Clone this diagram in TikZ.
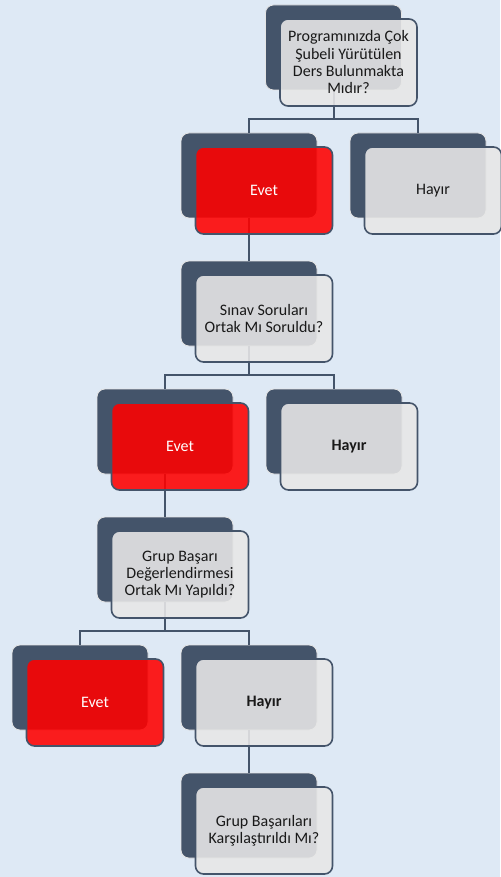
\documentclass[tikz,border=0pt]{standalone}
\usepackage{fontspec}
\setmainfont{Carlito}
\usetikzlibrary{calc}
\definecolor{slate}{HTML}{44546A}
\definecolor{bgblue}{HTML}{DEE9F5}
\definecolor{boxgray}{HTML}{E7E7E7}
\definecolor{rimgray}{HTML}{E4E4E4}
\tikzset{
  backbox/.style = {draw=rimgray, line width=0.6pt, fill=slate, rounded corners=6pt,
                    minimum width=102pt, minimum height=63.75pt, inner sep=0pt},
  frontbox/.style = {draw=slate, line width=1.2pt, rounded corners=6pt,
                     minimum width=102.75pt, minimum height=65.25pt, inner sep=0pt,
                     align=center, text opacity=1, xshift=11.25pt, yshift=-11.25pt,
                     font=\fontsize{12}{13}\selectfont},
  yesbox/.style = {frontbox, fill=red, fill opacity=0.88, text=white},
  nobox/.style  = {frontbox, fill=boxgray, fill opacity=0.89, text=black!90},
  conn/.style   = {draw=slate, line width=1.5pt}
}

\begin{document}
\begin{tikzpicture}[x=0.75pt, y=-0.75pt]
  \fill[bgblue] (0,0) rectangle (500,877);
  \useasboundingbox (0,0) rectangle (500,877);
  % back boxes
  \node[backbox] (q1b) at (333.5, 47.5)  {};
  \node[backbox] (e1b) at (249, 175.5)   {};
  \node[backbox] (h1b) at (418, 175.5)   {};
  \node[backbox] (q2b) at (249, 303.5)   {};
  \node[backbox] (e2b) at (165, 431.5)   {};
  \node[backbox] (h2b) at (334, 431.5)   {};
  \node[backbox] (q3b) at (165, 559.5)   {};
  \node[backbox] (e3b) at (80, 687.5)    {};
  \node[backbox] (h3b) at (249, 687.5)   {};
  \node[backbox] (q4b) at (249, 815.5)   {};
  % bottom middle of the front boxes, for the connectors
  \path (q1b) ++(15,58.5) coordinate (q1);
  \path (q2b) ++(15,58.5) coordinate (q2);
  \path (q3b) ++(15,58.5) coordinate (q3);
  % connectors
  \draw[conn] (q1b.south) |- ($(q1)!.5!(e1b.north)$) -| (e1b.north);
  \draw[conn] (q1b.south) |- ($(q1)!.5!(h1b.north)$) -| (h1b.north);
  \draw[conn] (e1b.south) -- (q2b.north);
  \draw[conn] (q2b.south) |- ($(q2)!.5!(e2b.north)$) -| (e2b.north);
  \draw[conn] (q2b.south) |- ($(q2)!.5!(h2b.north)$) -| (h2b.north);
  \draw[conn] (e2b.south) -- (q3b.north);
  \draw[conn] (q3b.south) |- ($(q3)!.5!(e3b.north)$) -| (e3b.north);
  \draw[conn] (q3b.south) |- ($(q3)!.5!(h3b.north)$) -| (h3b.north);
  \draw[conn] (h3b.south) -- (q4b.north);
  % front boxes
  \node[nobox]  (q1f) at (q1b) {Programınızda Çok\\Şubeli Yürütülen\\Ders Bulunmakta\\Mıdır?};
  \node[yesbox] (e1f) at (e1b) {Evet};
  \node[nobox]  (h1f) at (h1b) {Hayır};
  \node[nobox]  (q2f) at (q2b) {Sınav Soruları\\Ortak Mı Soruldu?};
  \node[yesbox] (e2f) at (e2b) {Evet};
  \node[nobox]  (h2f) at (h2b) {\bfseries Hayır};
  \node[nobox]  (q3f) at (q3b) {Grup Başarı\\Değerlendirmesi\\Ortak Mı Yapıldı?};
  \node[yesbox] (e3f) at (e3b) {Evet};
  \node[nobox]  (h3f) at (h3b) {\bfseries Hayır};
  \node[nobox]  (q4f) at (q4b) {Grup Başarıları\\Karşılaştırıldı Mı?};
\end{tikzpicture}
\end{document}
